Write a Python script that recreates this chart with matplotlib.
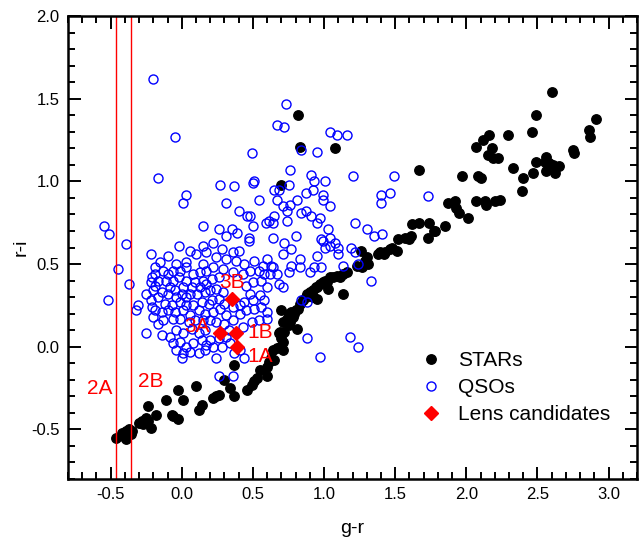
import matplotlib
matplotlib.use("Agg")
import matplotlib.pyplot as plt
from matplotlib.ticker import MultipleLocator

plt.rcParams["font.family"] = ["Liberation Sans", "DejaVu Sans"]
plt.rcParams["axes.unicode_minus"] = False

# ---- data (g-r, r-i) ----
star_gr = [0.82, 0.83, 0.70, 1.08,
           -0.46, -0.42, -0.39, -0.41, -0.39, -0.35, -0.37, -0.36,
           -0.30, -0.28, -0.25, -0.27, -0.24, -0.22, -0.24, -0.18,
           -0.11, -0.07, -0.06, -0.03, -0.03, 0.01, 0.10, 0.12,
           0.14, 0.22, 0.24, 0.26, 0.30, 0.34, 0.37, 0.37,
           0.46, 0.49, 0.51, 0.53, 0.60, 0.65, 0.71,
           0.55, 0.60, 0.61, 0.64, 0.63, 0.67, 0.69, 0.70, 0.71, 0.72,
           0.69, 0.68, 0.75, 0.76, 0.78, 0.79, 0.80, 0.77, 0.75, 0.74,
           0.71, 0.70, 0.81, 0.82, 0.83, 0.85, 0.87, 0.88, 0.90, 0.92,
           0.94, 0.95, 0.97, 0.99, 1.01, 1.02, 1.04, 1.06, 1.09, 1.11,
           1.13, 1.16, 0.95, 0.92, 1.03, 1.13,
           1.23, 1.27, 1.31, 1.26, 1.30, 1.29,
           1.48, 1.46, 1.51, 1.43, 1.42, 1.39, 1.38,
           1.52, 1.57, 1.60, 1.61, 1.62, 1.67, 1.74, 1.77, 1.78, 1.73, 1.85,
           1.87, 1.92, 1.93, 1.95, 2.01, 2.07, 2.13, 2.14, 2.20, 2.24,
           1.67, 1.97, 2.08, 2.10, 2.33, 2.40, 2.39, 2.47, 2.56, 2.62,
           2.49, 2.55, 2.58, 2.61, 2.65, 2.56, 2.75, 2.76, 2.07, 2.18,
           2.15, 2.19, 2.22, 2.12, 2.16, 2.29, 2.46, 2.49, 2.60, 2.86,
           2.87, 2.91]
star_ri = [1.40, 1.21, 0.98, 1.20,
           -0.55, -0.52, -0.51, -0.54, -0.56, -0.51, -0.50, -0.53,
           -0.46, -0.45, -0.43, -0.47, -0.45, -0.49, -0.36, -0.41,
           -0.32, -0.41, -0.42, -0.44, -0.26, -0.32, -0.24, -0.38,
           -0.35, -0.31, -0.30, -0.29, -0.20, -0.25, -0.30, -0.11,
           -0.26, -0.23, -0.21, -0.19, -0.18, -0.08, -0.02,
           -0.14, -0.12, -0.09, -0.02, -0.07, -0.01, 0.00, 0.05, 0.03, 0.09,
           0.09, 0.08, 0.13, 0.15, 0.18, 0.20, 0.22, 0.21, 0.20, 0.17,
           0.15, 0.22, 0.11, 0.23, 0.26, 0.28, 0.30, 0.32, 0.33, 0.34,
           0.36, 0.36, 0.38, 0.39, 0.40, 0.39, 0.42, 0.42, 0.43, 0.42,
           0.44, 0.45, 0.29, 0.30, 0.35, 0.32,
           0.49, 0.48, 0.50, 0.58, 0.54, 0.52,
           0.60, 0.59, 0.58, 0.57, 0.56, 0.57, 0.56,
           0.65, 0.66, 0.65, 0.67, 0.74, 0.75, 0.75, 0.70, 0.70, 0.66, 0.73,
           0.87, 0.88, 0.84, 0.81, 0.78, 0.88, 0.88, 0.86, 0.88, 0.89,
           1.07, 1.03, 1.03, 1.02, 1.08, 1.02, 0.94, 1.05, 1.06, 1.05,
           1.12, 1.12, 1.11, 1.10, 1.09, 1.15, 1.19, 1.17, 1.21, 1.20,
           1.16, 1.14, 1.14, 1.25, 1.28, 1.28, 1.30, 1.40, 1.54, 1.31,
           1.27, 1.38]

qso_gr = [-0.20, -0.05, 0.67, 0.72, 0.73, 1.04, 1.09, 1.16, 0.84, 0.95, 0.49,
          -0.17, 0.03, 0.01, 0.27, 0.37, 0.31, 0.40, 0.46, 0.15, 0.26, 0.35,
          -0.55, -0.51, -0.39, -0.45, 0.31, 0.39,
          0.76, 0.91, 0.93, 0.92, 0.87, 1.01, 0.51, 0.50, 0.75, 0.68,
          0.65, 0.54, 0.67, 0.71, 0.76, 0.81, 0.99, 0.99, 1.04, 0.84,
          0.87, 0.91, 0.97, 0.95, 0.65, 0.64, 0.61, 0.59, 0.74, 0.74,
          0.48, 0.50, 1.20, 1.49, 1.40, 1.40, 1.46, 1.22, 1.30, 1.35,
          1.41, 1.03, 1.04, 0.98, 0.99, 1.08, 1.10, 1.01, 1.04, 1.10,
          1.19, 0.80, 0.72, 0.77, 0.71, 0.64, 0.83, 0.95, 0.47, 1.73,
          1.22,
          # dense cluster, left half
          -0.02, 0.15,
          -0.22, -0.10, 0.06, 0.10, 0.17,
          -0.15, -0.04, 0.03, 0.15, -0.19,
          -0.19, -0.13, -0.06, -0.01, 0.03, 0.08, 0.13, 0.17, -0.10, -0.21,
          -0.22, -0.17, -0.11, -0.06, -0.02, 0.03, 0.09, 0.15, -0.19, -0.08, 0.01, 0.07, 0.13, 0.17,
          -0.25, -0.20, -0.14, -0.10, -0.05, 0.00, 0.06, 0.11, 0.16, -0.17, -0.04, 0.03,
          -0.22, -0.21, -0.12, -0.07, -0.01, 0.03, 0.08, 0.14, 0.19,
          -0.19, -0.14, -0.10, -0.05, 0.01, 0.06, 0.12, 0.16, -0.20,
          -0.13, -0.06, -0.01, 0.05, 0.09, 0.15, -0.17,
          -0.25, -0.14, -0.08, -0.04, 0.01, 0.07, 0.12, 0.16,
          -0.06, -0.01, 0.03, 0.08, 0.14, 0.17,
          -0.04, 0.01, 0.06, 0.12, 0.16, 0.00,
          # dense cluster, right half
          0.22, 0.28, 0.36, 0.40, 0.47,
          0.24, 0.31, 0.38, 0.44, 0.51, 0.57, 0.60,
          0.22, 0.29, 0.36, 0.43, 0.48, 0.54, 0.58,
          0.21, 0.26, 0.56, 0.50, 0.45, 0.60,
          0.20, 0.24, 0.29, 0.48, 0.55, 0.44, 0.50, 0.58,
          0.21, 0.26, 0.30, 0.36, 0.41, 0.45, 0.51, 0.56, 0.60,
          0.22, 0.27, 0.31, 0.41, 0.54, 0.60,
          0.20, 0.24, 0.30, 0.36, 0.43, 0.49, 0.33,
          0.20, 0.26, 0.31, 0.34, 0.22, 0.28, 0.24,
          # around the stellar locus
          0.63, 0.64, 0.67, 0.62, 0.68, 0.71, 0.77, 0.83, 0.75, 0.90,
          0.84, 0.88, 0.88, 0.97, 0.44, 0.41, 0.37,
          0.93, 0.98, 1.13, 1.24, 1.33, 1.18, 1.24,
          -0.37, -0.52, -0.31, -0.32, 0.26, 0.36]
qso_ri = [1.62, 1.27, 1.34, 1.33, 1.47, 1.30, 1.28, 1.28, 1.19, 1.18, 1.17,
          1.02, 0.92, 0.87, 0.98, 0.97, 0.87, 0.82, 0.79, 0.73, 0.71, 0.71,
          0.73, 0.68, 0.62, 0.47, 0.67, 0.69,
          1.07, 1.04, 1.00, 0.95, 0.93, 1.00, 1.00, 0.99, 0.98, 0.95,
          0.95, 0.89, 0.89, 0.85, 0.86, 0.89, 0.92, 0.89, 0.85, 0.81,
          0.82, 0.79, 0.78, 0.75, 0.79, 0.75, 0.76, 0.75, 0.76, 0.82,
          0.79, 0.73, 1.03, 1.03, 0.92, 0.87, 0.93, 0.75, 0.71, 0.67,
          0.68, 0.71, 0.66, 0.65, 0.64, 0.63, 0.60, 0.60, 0.61, 0.56,
          0.60, 0.67, 0.63, 0.59, 0.56, 0.66, 0.53, 0.55, 0.66, 0.91,
          0.57,
          # dense cluster, left half
          0.61, 0.61,
          0.56, 0.55, 0.58, 0.56, 0.57,
          0.51, 0.50, 0.51, 0.50, 0.48,
          0.44, 0.46, 0.46, 0.46, 0.48, 0.44, 0.45, 0.46, 0.44, 0.42,
          0.39, 0.40, 0.40, 0.40, 0.42, 0.40, 0.39, 0.40, 0.37, 0.36, 0.36, 0.36, 0.36, 0.38,
          0.32, 0.34, 0.33, 0.32, 0.34, 0.32, 0.32, 0.32, 0.33, 0.30, 0.30, 0.30,
          0.28, 0.24, 0.26, 0.25, 0.27, 0.25, 0.25, 0.27, 0.26,
          0.22, 0.21, 0.22, 0.21, 0.22, 0.19, 0.22, 0.20, 0.18,
          0.16, 0.17, 0.17, 0.15, 0.16, 0.16, 0.14,
          0.08, 0.07, 0.06, 0.10, 0.08, 0.11, 0.08, 0.10,
          0.02, 0.03, 0.00, 0.02, 0.04, 0.01,
          -0.02, -0.04, -0.03, -0.04, -0.02, -0.07,
          # dense cluster, right half
          0.63, 0.59, 0.57, 0.58, 0.64,
          0.54, 0.53, 0.52, 0.50, 0.52, 0.49, 0.53,
          0.48, 0.47, 0.45, 0.44, 0.46, 0.46, 0.44,
          0.41, 0.42, 0.40, 0.39, 0.37, 0.36,
          0.34, 0.35, 0.33, 0.32, 0.31, 0.27, 0.28, 0.28,
          0.28, 0.29, 0.26, 0.24, 0.25, 0.22, 0.23, 0.24, 0.21,
          0.21, 0.23, 0.19, 0.20, 0.16, 0.17,
          0.16, 0.15, 0.14, 0.16, 0.12, 0.15, 0.10,
          0.04, 0.05, 0.06, 0.02, 0.00, 0.00, -0.07,
          # around the stellar locus
          0.49, 0.48, 0.44, 0.44, 0.38, 0.36, 0.49, 0.48, 0.45, 0.45,
          0.28, 0.27, 0.05, -0.06, -0.07, -0.02, -0.04,
          0.48, 0.48, 0.49, 0.50, 0.40, 0.06, 0.00,
          0.38, 0.28, 0.25, 0.22, -0.18, -0.18]

lens_gr = [0.35, 0.27, 0.38, 0.39]
lens_ri = [0.29, 0.08, 0.08, 0.00]

# red labels: text, x, y
tag_text = ["3B", "3A", "1B", "1A", "2A", "2B"]
tag_x = [0.35, 0.11, 0.55, 0.55, -0.58, -0.22]
tag_y = [0.39, 0.12, 0.085, -0.06, -0.25, -0.21]

cut_lines = [-0.46, -0.36]

fig = plt.figure(figsize=(6.41, 5.37), dpi=100)
ax = fig.add_axes([0.1061, 0.108, 0.8877, 0.8622])

ax.plot(star_gr, star_ri, "o", color="black", markersize=6.8, label="STARs")
ax.plot(qso_gr, qso_ri, "o", mfc="none", mec="blue", mew=1.0,
        markersize=6.5, label="QSOs")
ax.plot(lens_gr, lens_ri, "D", color="red", markersize=7, label="Lens candidates")

for xv in cut_lines:
    ax.axvline(xv, color="red", lw=1.0)

for t, xv, yv in zip(tag_text, tag_x, tag_y):
    ax.text(xv, yv, t, color="red", fontsize=15, ha="center", va="center")

ax.set_xlim(-0.8, 3.2)
ax.set_ylim(-0.8, 2.0)
ax.xaxis.set_major_locator(MultipleLocator(0.5))
ax.xaxis.set_minor_locator(MultipleLocator(0.1))
ax.yaxis.set_major_locator(MultipleLocator(0.5))
ax.yaxis.set_minor_locator(MultipleLocator(0.1))
ax.xaxis.set_major_formatter(plt.FormatStrFormatter("%.1f"))
ax.yaxis.set_major_formatter(plt.FormatStrFormatter("%.1f"))

ax.tick_params(which="both", direction="in", top=True, right=True, width=1.4)
ax.tick_params(which="major", length=9, labelsize=12, pad=6)
ax.tick_params(which="minor", length=5)
for sp in ax.spines.values():
    sp.set_linewidth(1.8)

ax.set_xlabel("g-r", fontsize=14, labelpad=13)
ax.set_ylabel("r-i", fontsize=14, labelpad=1)

ax.legend(loc="upper left", bbox_to_anchor=(0.587, 0.317), frameon=False,
          fontsize=15, handlelength=1.0, handletextpad=0.8, labelspacing=0.38,
          borderpad=0.4)

fig.savefig("out.png", dpi=100)
